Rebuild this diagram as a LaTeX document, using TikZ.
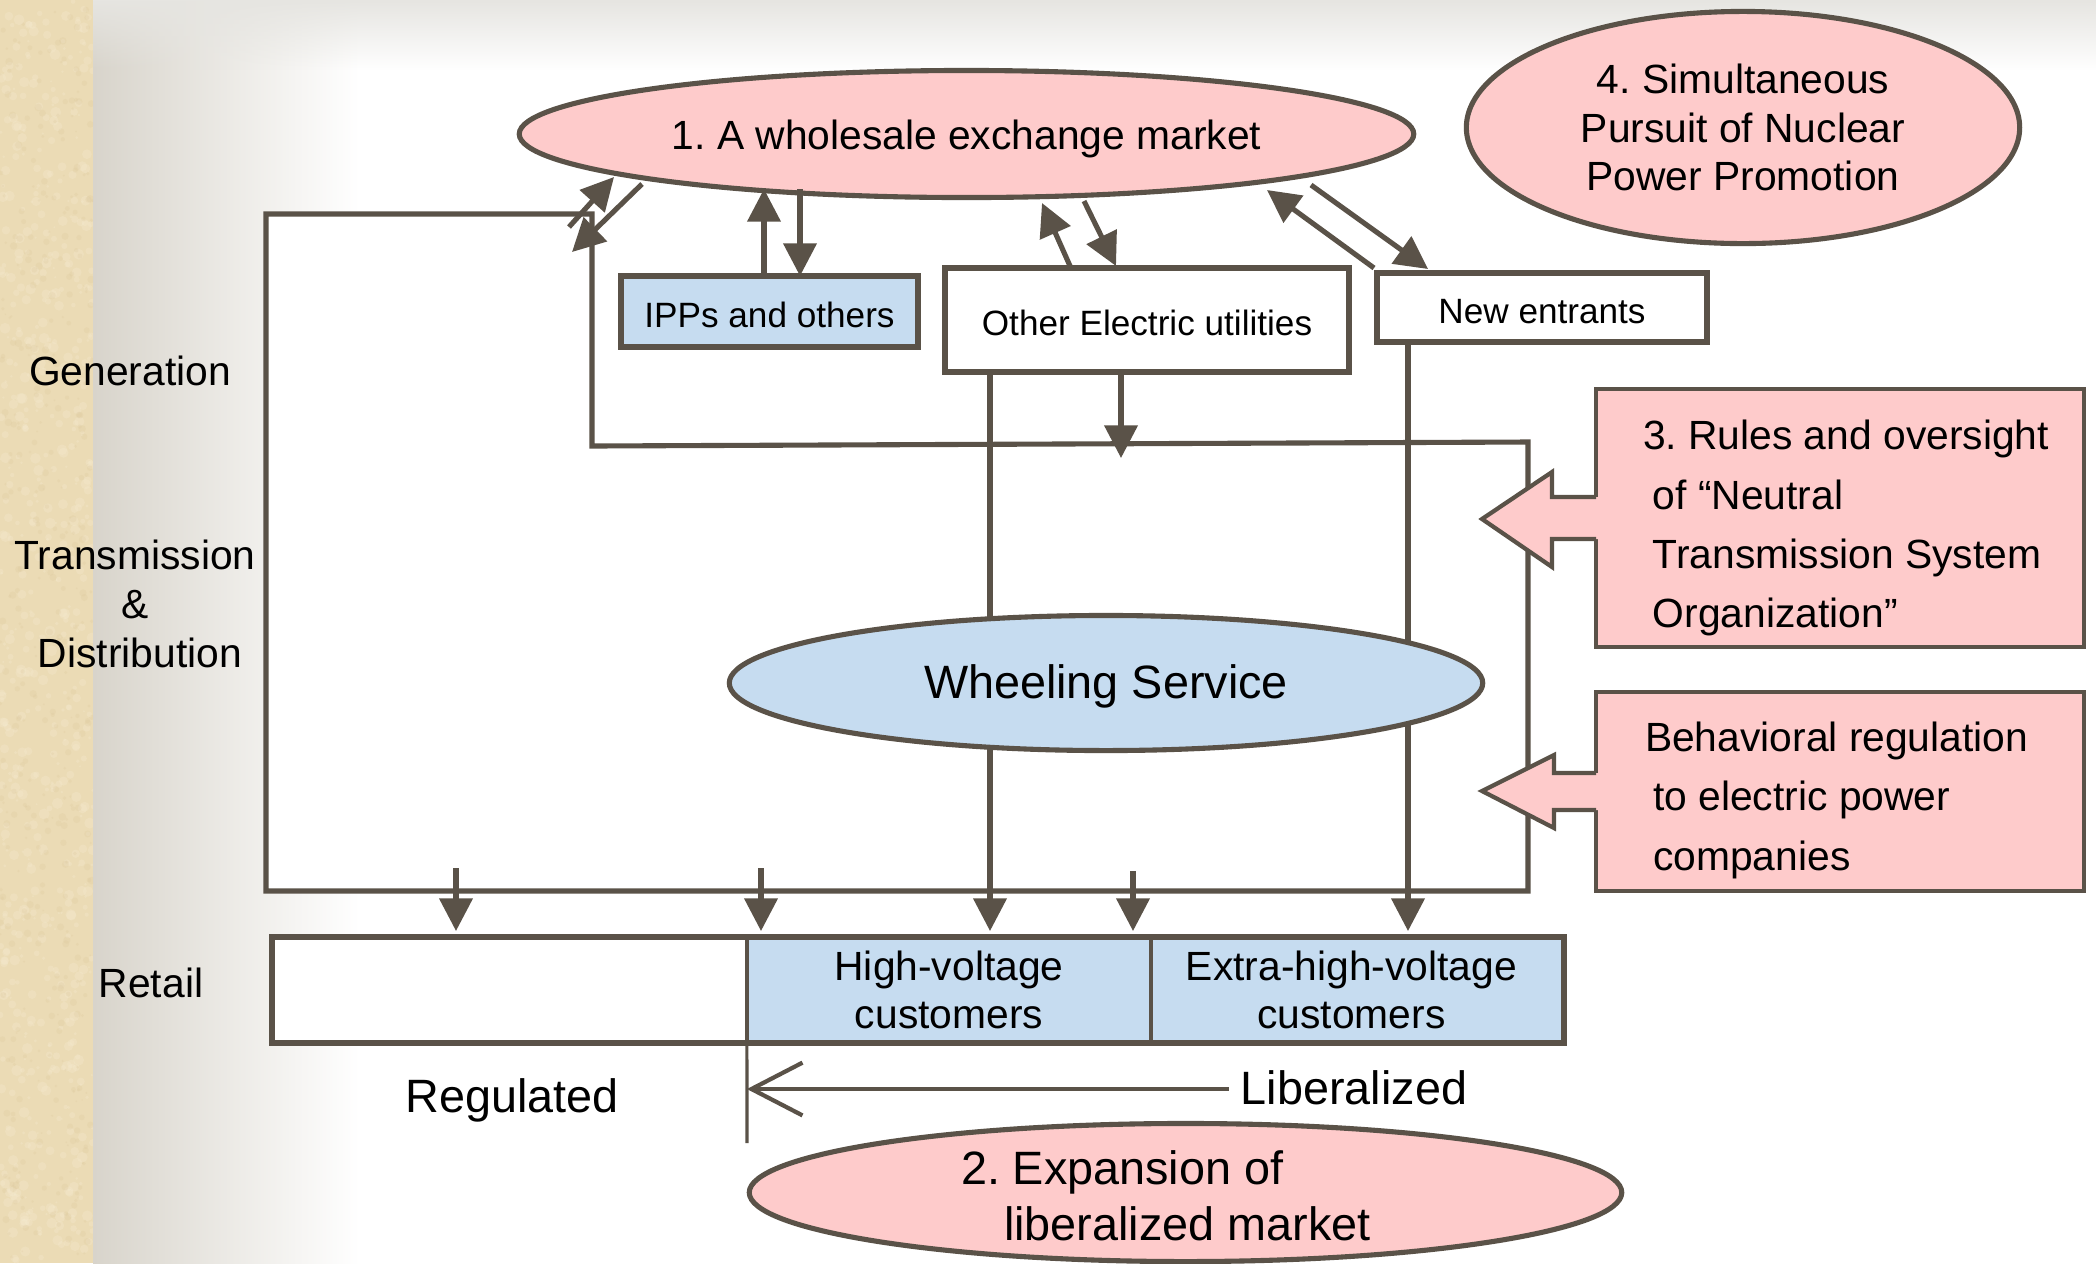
\documentclass[tikz,border=0pt]{standalone}
\usepackage{fontspec}
\setmainfont{Liberation Sans}
\usetikzlibrary{shapes.geometric,arrows.meta,fadings}
\definecolor{linec}{RGB}{90,82,72}
\definecolor{pinkf}{RGB}{254,203,203}
\definecolor{bluef}{RGB}{198,220,240}
\definecolor{tanc}{RGB}{235,219,181}
\definecolor{tanl}{RGB}{246,236,210}
\definecolor{tand}{RGB}{216,195,150}
\definecolor{grayg}{RGB}{216,212,203}
\definecolor{bandc}{RGB}{230,229,225}
\tikzfading[name=fadedown, top color=transparent!0, bottom color=transparent!100]
\begin{document}
\frenchspacing
\begin{tikzpicture}[x=0.01cm, y=-0.01cm,
  ln/.style={draw=linec, line width=1.45pt},
  arr/.style={ln, -{Triangle[length=9.3pt,width=9.3pt]}},
  fm/.style={font=\fontsize{11.6pt}{13.9pt}\selectfont},
  fs/.style={font=\fontsize{10pt}{12pt}\selectfont},
  fb/.style={font=\fontsize{13.3pt}{16pt}\selectfont},
  oneline/.style={text height=0.9em, text depth=0pt},
  lbl/.style={inner sep=0pt, outer sep=0pt, text=black},
  ell/.style={ellipse, draw=linec, line width=1.45pt, inner sep=0pt, outer sep=0pt, text=black},
  genbox/.style={rectangle, draw=linec, line width=1.6pt, inner sep=0pt, outer sep=0pt, fs, oneline, text=black},
  callbox/.style={rectangle, draw=linec, line width=1.2pt, fill=pinkf, inner sep=0pt, outer sep=0pt},
  custbox/.style={rectangle, draw=linec, line width=1.3pt, fill=bluef, inner sep=0pt, outer sep=0pt,
     minimum height=1.06cm, align=center, font=\fontsize{11.6pt}{13.7pt}\selectfont, text=black},
  callout/.style={draw=linec, line width=1.2pt, line join=miter}
]
\useasboundingbox (0,0) rectangle (2098,1263);
% ---------- background ----------
\fill[white] (0,0) rectangle (2098,1263);
\shade[left color=grayg, right color=white] (93,0) rectangle (360,1263);
\fill[bandc, path fading=fadedown] (93,0) rectangle (2098,70);
\fill[tanc] (0,0) rectangle (93,1263);
\begin{scope}
  \clip (0,0) rectangle (93,1263);
  \pgfmathsetseed{12}
  \foreach \i in {1,...,700}{
    \pgfmathsetmacro{\px}{rnd*93}
    \pgfmathsetmacro{\py}{rnd*1263}
    \pgfmathsetmacro{\pr}{0.01+rnd*0.045}
    \fill[tanl, opacity=0.28] (\px,\py) circle [radius=\pr cm];
  }
  \foreach \i in {1,...,450}{
    \pgfmathsetmacro{\px}{rnd*93}
    \pgfmathsetmacro{\py}{rnd*1263}
    \pgfmathsetmacro{\pr}{0.008+rnd*0.03}
    \fill[tand, opacity=0.2] (\px,\py) circle [radius=\pr cm];
  }
\end{scope}

% ---------- frame of the transmission network ----------
\draw[ln, fill=white, line join=miter] (266,214) -- (592,214) -- (592,446) -- (1528,442) -- (1528,891) -- (266,891) -- cycle;

% ---------- nodes ----------
\node[ell, fill=pinkf, minimum width=8.94cm, minimum height=1.27cm, fm, oneline] (e1) at (966.5,134) {1. A wholesale exchange market};
\node[ell, fill=pinkf, minimum width=5.53cm, minimum height=2.32cm, fm, align=center] (e4) at (1743,127.5) {4. Simultaneous\\Pursuit of Nuclear\\Power Promotion};

\node[genbox, fill=bluef, minimum width=2.97cm, minimum height=0.71cm] (ipp) at (769.5,311.5) {IPPs and others};
\node[genbox, fill=white, minimum width=4.04cm, minimum height=1.04cm] (oeu) at (1147,320) {Other Electric utilities};
\node[genbox, fill=white, minimum width=3.30cm, minimum height=0.69cm] (ne) at (1542,307.5) {New entrants};

% coordinates for connector ends
\coordinate (r1) at (456,931);
\coordinate (r2) at (761,931);
\coordinate (r3) at (990,931);
\coordinate (r4) at (1133,931);
\coordinate (r5) at (1408,931);
\coordinate (s1) at (456,868);
\coordinate (s2) at (761,868);
\coordinate (s4) at (1133,871);
\coordinate (fo) at (1121,458);

% lines running behind the wheeling ellipse
\draw[arr] (oeu.south -| r3) -- (r3);
\draw[arr] (ne.south -| r5) -- (r5);
\draw[arr] (oeu.south -| fo) -- (fo);

\node[ell, fill=bluef, minimum width=7.53cm, minimum height=1.35cm, fb, oneline] (ws) at (1106,683) {Wheeling Service};

% arrows to the retail segment
\draw[arr] (s1) -- (r1);
\draw[arr] (s2) -- (r2);
\draw[arr] (s4) -- (r4);

% arrows between generators and the exchange market
\coordinate (iu) at (764,189);
\coordinate (id) at (800,189);
\draw[arr] (ipp.north -| iu) -- (iu);
\draw[arr] (id) -- (ipp.north -| id);

\coordinate (ouA) at (1070,266);
\coordinate (ouB) at (1042,203);
\coordinate (odA) at (1084,201);
\coordinate (odB) at (1116,266);
\draw[arr] (ouA) -- (ouB);
\draw[arr] (odA) -- (odB);

\coordinate (nuA) at (1374,268);
\coordinate (nuB) at (1267,190);
\coordinate (ndA) at (1311,185);
\coordinate (ndB) at (1428,269);
\draw[arr] (nuA) -- (nuB);
\draw[arr] (ndA) -- (ndB);

\coordinate (faA) at (569,227);
\coordinate (faB) at (614,177);
\coordinate (fbA) at (642,184);
\coordinate (fbB) at (572,252);
\draw[arr] (faA) -- (faB);
\draw[arr] (fbA) -- (fbB);

% ---------- callout boxes ----------
\node[callbox, minimum width=4.88cm, minimum height=2.58cm] (rules) at (1840,518) {};
\fill[pinkf] (1599,497) -- (1552,497) -- (1552,472) -- (1482,519) -- (1552,567) -- (1552,539) -- (1599,539) -- cycle;
\draw[callout] (1596,497) -- (1552,497) -- (1552,472) -- (1482,519) -- (1552,567) -- (1552,539) -- (1596,539);
\node[lbl, align=left, anchor=west, font=\fontsize{11.6pt}{16.8pt}\selectfont] (rulestxt) at (1643,528)
  {3. Rules and oversight\\\hspace*{0.24em}of “Neutral\\\hspace*{0.24em}Transmission System\\\hspace*{0.24em}Organization”};

\node[callbox, minimum width=4.88cm, minimum height=1.99cm] (beh) at (1840,791.5) {};
\fill[pinkf] (1599,773) -- (1554,773) -- (1554,755) -- (1482,791) -- (1554,828) -- (1554,810) -- (1599,810) -- cycle;
\draw[callout] (1596,773) -- (1554,773) -- (1554,755) -- (1482,791) -- (1554,828) -- (1554,810) -- (1596,810);
\node[lbl, align=left, anchor=west, font=\fontsize{11.6pt}{16.9pt}\selectfont] (behtxt) at (1645,800)
  {Behavioral regulation\\\hspace*{0.2em}to electric power\\\hspace*{0.2em}companies};

% ---------- retail segment ----------
\node[rectangle, fill=white, inner sep=0pt, outer sep=0pt, minimum width=12.92cm, minimum height=1.06cm] (retail) at (918,990) {};
\node[custbox, minimum width=4.04cm] (hv) at (949,990) {High-voltage\\customers};
\node[custbox, minimum width=4.13cm] (ehv) at (1357.5,990) {Extra-high-voltage\hspace*{0.12cm}\\customers\hspace*{0.12cm}};
\draw[draw=linec, line width=1.7pt] (retail.north west) rectangle (retail.south east);

\coordinate (dvb) at (747,1143);
\draw[draw=linec, line width=0.9pt] (hv.south west) -- (dvb);

\node[lbl, fb, oneline, inner xsep=0.12cm] (lib) at (1354,1089) {Liberalized};
\draw[draw=linec, line width=1.2pt, -{Straight Barb[length=14.5pt,width=15pt]}] (lib.west) -- (lib.west -| hv.south west);
\node[lbl, fb, oneline] (reg) at (512,1097) {Regulated};

\node[ell, fill=pinkf, minimum width=8.72cm, minimum height=1.38cm] (e2) at (1185.5,1192.5) {};
\node[lbl, align=left, anchor=west, font=\fontsize{13.3pt}{15.9pt}\selectfont] (e2txt) at (961,1196)
  {2. Expansion of\\\hspace*{0.43cm}liberalized market};

% ---------- left labels ----------
\node[lbl, fm, oneline] (gen) at (130,370) {Generation};
\node[lbl, fm, align=center] (td) at (135,604) {Transmission\\\&\\\hspace*{0.1cm}Distribution};
\node[lbl, fm, oneline] (ret) at (151,982) {Retail};
\end{tikzpicture}
\end{document}
